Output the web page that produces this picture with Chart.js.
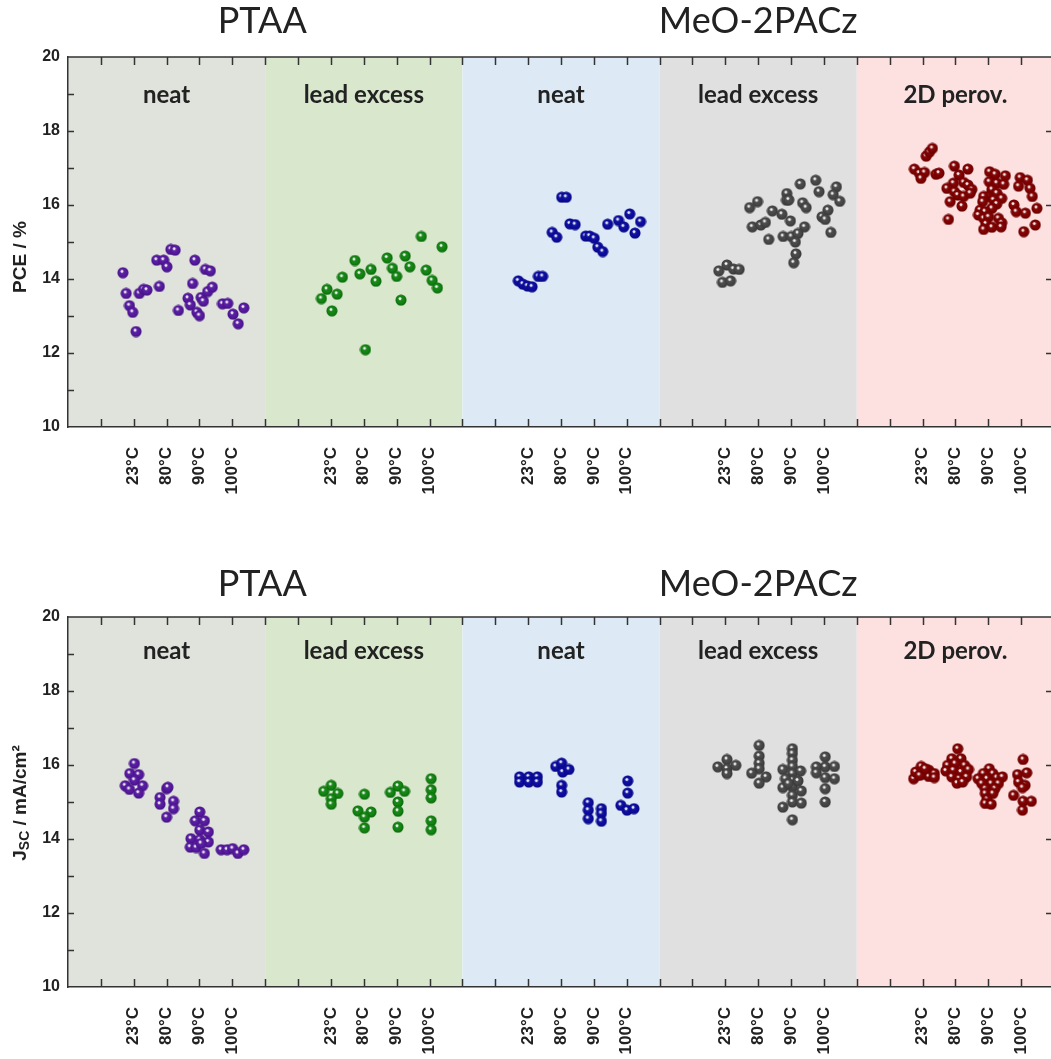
<!DOCTYPE html>
<html>
<head>
<meta charset="utf-8">
<script src="https://cdn.jsdelivr.net/npm/chart.js@4.4.1/dist/chart.umd.min.js"></script>
<style>
html, body { margin: 0; padding: 0; background: #fff; overflow: hidden; width: 1051px; height: 1059px; }
canvas { position: absolute; left: 0; }
#pceChart { top: 0; }
#jscChart { top: 560px; }
</style>
</head>
<body>
<canvas id="pceChart" width="1060" height="500"></canvas>
<canvas id="jscChart" width="1060" height="500"></canvas>
<script>
// categories
const groups = ["neat", "lead excess", "neat", "lead excess", "2D perov."];
const materials = ["PTAA", "MeO-2PACz"];
const tempLabels = ["23°C", "80°C", "90°C", "100°C"];
const bandColors = ["#dfe3dc", "#d9e8cc", "#ddeaf6", "#e0e0e0", "#fde0e0"];
const markerColors = ["#5a1aa8", "#128a12", "#0c0ca8", "#4a4a4a", "#870000"];

// PCE (%) - [x position on axis, value]
const pcePtaaNeat = [[1.67,14.17],[1.77,13.61],[1.87,13.28],[1.97,13.10],[2.07,12.58],[2.17,13.61],[2.30,13.72],[2.40,13.70],
  [2.78,13.80],[2.70,14.51],[2.91,14.51],[3.01,14.33],[3.13,14.80],[3.26,14.78],[3.36,13.15],[3.65,13.48],[3.72,13.30],
  [3.79,13.88],[3.86,14.51],[3.92,13.10],[4.00,13.01],[4.05,13.50],[4.12,13.40],[4.18,14.26],[4.33,14.22],[4.25,13.66],
  [4.39,13.78],[4.70,13.33],[4.86,13.34],[5.02,13.05],[5.18,12.79],[5.35,13.22]];
const pcePtaaLead = [[10.75,15.15],[11.38,14.87],[8.73,14.50],[9.71,14.57],[10.26,14.62],[8.35,14.05],[8.88,14.14],[9.22,14.26],
  [9.87,14.29],[10.40,14.33],[10.90,14.24],[9.37,13.94],[10.00,14.07],[11.08,13.96],[11.24,13.76],[7.88,13.72],[7.71,13.47],
  [8.19,13.59],[8.03,13.14],[10.13,13.43],[9.05,12.09]];
const pceMeoNeat = [[15.02,16.21],[15.16,16.21],[14.73,15.26],[14.87,15.13],[15.27,15.49],[15.43,15.47],[15.75,15.16],[15.87,15.16],
  [16.01,15.10],[16.12,14.86],[16.27,14.74],[16.42,15.48],[16.75,15.58],[16.91,15.41],[17.09,15.76],[17.42,15.55],[17.25,15.24],
  [14.31,14.07],[14.44,14.07],[13.70,13.95],[13.84,13.86],[13.98,13.81],[14.12,13.79]];
const pceMeoLead = [[22.28,16.57],[22.75,16.67],[23.38,16.49],[22.85,16.36],[21.87,16.31],[21.86,16.13],[21.93,16.14],[23.28,16.28],
  [23.48,16.10],[22.35,16.06],[22.46,15.93],[20.98,16.09],[20.74,15.93],[21.43,15.84],[21.72,15.75],[21.98,15.57],[23.12,15.86],
  [22.94,15.68],[23.04,15.61],[20.82,15.41],[21.08,15.46],[21.22,15.53],[22.41,15.41],[21.76,15.15],[22.01,15.15],[22.21,15.23],
  [22.13,15.00],[21.32,15.07],[23.21,15.26],[22.15,14.68],[22.08,14.44],
  [19.80,14.22],[20.05,14.38],[20.25,14.27],[20.42,14.26],[19.91,13.91],[20.16,13.95]];
const pceMeo2D = [[26.11,17.32],[26.21,17.43],[26.30,17.53],[25.75,16.97],[25.90,16.86],[26.06,16.88],[25.95,16.72],[26.41,16.83],
  [26.50,16.86],[26.97,17.05],[27.38,16.97],[27.11,16.81],[26.94,16.59],[26.74,16.45],[27.25,16.61],[27.38,16.54],[27.50,16.42],
  [26.97,16.36],[27.07,16.27],[27.25,16.23],[27.45,16.32],[26.84,16.09],[27.20,15.97],[26.79,15.61],[28.04,16.90],[28.21,16.83],
  [28.52,16.79],[28.03,16.63],[28.26,16.59],[28.47,16.56],[28.11,16.42],[28.26,16.32],[27.99,16.23],[28.16,16.14],[27.86,16.23],
  [27.83,16.09],[28.41,16.18],[28.26,16.03],[28.11,15.91],[27.75,15.86],[27.90,15.82],[27.70,15.73],[27.86,15.64],[28.01,15.68],
  [27.93,15.49],[27.86,15.34],[28.11,15.40],[28.31,15.64],[28.41,15.52],[28.39,15.41],[28.97,16.74],[29.19,16.67],[28.92,16.51],
  [29.27,16.45],[29.34,16.23],[28.78,16.00],[28.85,15.82],[29.13,15.78],[29.48,15.91],[29.43,15.46],[29.08,15.28]];

// Jsc (mA/cm2) - [x position on axis, value]
const jscPtaaNeat = [[2.02,16.04],[1.88,15.77],[2.15,15.74],[2.02,15.59],[1.74,15.44],[1.87,15.34],[2.27,15.44],[2.15,15.24],
  [2.80,15.12],[2.80,14.94],[3.00,15.36],[3.04,15.40],[3.00,14.59],[3.21,15.02],[3.21,14.82],
  [4.01,14.73],[3.87,14.49],[4.15,14.49],[4.01,14.24],[4.27,14.19],[3.74,14.01],[4.01,13.98],[3.72,13.78],[3.90,13.77],
  [4.27,13.92],[4.15,13.61],[4.05,13.88],
  [4.66,13.71],[4.84,13.71],[5.01,13.74],[5.17,13.61],[5.35,13.71]];
const jscPtaaLead = [[8.01,15.45],[7.78,15.29],[8.21,15.23],[8.01,15.09],[8.01,14.94],
  [9.02,15.21],[8.82,14.76],[9.22,14.73],[9.02,14.59],[9.02,14.30],
  [9.81,15.26],[10.04,15.43],[10.24,15.29],[10.04,15.00],[10.04,14.75],[10.04,14.32],
  [11.05,15.63],[11.05,15.33],[11.05,15.11],[11.05,14.49],[11.05,14.25]];
const jscMeoNeat = [[13.74,15.68],[14.02,15.68],[14.28,15.68],[13.74,15.54],[14.02,15.54],[14.28,15.54],
  [14.84,15.96],[15.02,16.05],[15.05,15.81],[15.24,15.88],[15.02,15.45],[15.02,15.27],
  [15.83,14.98],[15.83,14.78],[15.83,14.55],[16.23,14.82],[16.23,14.69],[16.23,14.48],
  [17.03,15.57],[17.03,15.24],[16.82,14.91],[17.01,14.78],[17.22,14.82]];
const jscMeoLead = [[20.05,16.15],[19.77,15.95],[20.05,15.90],[20.32,15.99],[20.05,15.77],
  [21.03,16.53],[21.03,16.24],[21.03,16.05],[21.03,15.90],[20.80,15.78],[21.24,15.68],[21.03,15.51],
  [22.04,16.44],[22.04,16.31],[22.04,16.13],[22.04,15.96],[22.04,15.77],[22.04,15.59],[22.04,15.41],[22.04,15.18],
  [22.04,15.00],[22.04,14.52],[21.75,15.88],[22.29,15.84],[21.83,15.63],[22.21,15.57],[21.75,15.39],[22.31,15.30],
  [21.75,14.86],[22.31,14.97],[21.92,15.50],
  [23.04,16.22],[23.04,15.95],[23.04,15.66],[23.04,15.36],[23.04,15.00],[22.77,15.95],[22.77,15.79],[23.32,15.96],[23.32,15.63]];
const jscMeo2D = [[25.73,15.63],[25.79,15.81],[25.96,15.96],[26.02,15.77],[26.19,15.86],[26.19,15.69],[26.36,15.77],[26.36,15.66],
  [25.91,15.72],[26.08,15.90],
  [27.07,16.44],[26.89,16.17],[27.17,16.17],[26.76,15.99],[26.99,16.04],[27.28,15.99],[26.71,15.84],[26.94,15.86],[27.17,15.81],
  [27.40,15.88],[26.89,15.68],[27.11,15.63],[27.34,15.68],[27.05,15.51],[27.22,15.54],
  [28.03,15.90],[27.85,15.77],[28.14,15.77],[27.69,15.63],[27.96,15.63],[28.26,15.66],[28.43,15.68],[27.80,15.50],[28.09,15.50],
  [28.31,15.50],[27.91,15.36],[28.20,15.36],[27.91,15.23],[28.14,15.23],[27.96,15.07],[27.91,14.96],[28.09,14.94],
  [29.06,16.15],[28.89,15.74],[29.17,15.79],[28.92,15.54],[29.12,15.45],[29.04,15.39],[28.77,15.18],[29.06,15.02],[29.31,15.02],
  [29.04,14.78]];

const FONT = "'Liberation Sans', Arial, sans-serif";
const TITLE_FONT = "Lato, 'Open Sans', sans-serif";

// small shaded ball used as the marker
function sphere(color) {
    const c = document.createElement('canvas');
    c.width = 12; c.height = 12;
    const g = c.getContext('2d');
    g.beginPath();
    g.arc(6, 6, 5.5, 0, Math.PI * 2);
    g.fillStyle = color;
    g.fill();
    const shade = g.createRadialGradient(5, 4.5, 0.5, 6, 6, 6);
    shade.addColorStop(0, 'rgba(255,255,255,0.35)');
    shade.addColorStop(0.5, 'rgba(0,0,0,0)');
    shade.addColorStop(1, 'rgba(0,0,0,0.3)');
    g.fillStyle = shade;
    g.fill();
    g.beginPath();
    g.arc(5, 4.6, 1.4, 0, Math.PI * 2);
    g.fillStyle = 'rgba(255,255,255,0.9)';
    g.fill();
    return c;
}

const framePlugin = {
    id: 'frame',
    beforeDraw(chart) {
        const { ctx, chartArea: a, scales: { x } } = chart;
        ctx.save();
        bandColors.forEach((c, i) => {
            const x0 = x.getPixelForValue(i * 6);
            const x1 = x.getPixelForValue(i * 6 + 6);
            ctx.fillStyle = c;
            ctx.fillRect(x0, a.top, x1 - x0, a.bottom - a.top);
        });
        ctx.restore();
    },
    afterDraw(chart, args, opts) {
        const { ctx, chartArea: a, scales: { x, y } } = chart;
        ctx.save();
        ctx.strokeStyle = '#333';
        ctx.lineWidth = 1.5;
        ctx.beginPath();
        // top frame line
        ctx.moveTo(a.left, a.top);
        ctx.lineTo(a.right, a.top);
        // inward ticks on bottom and top
        for (let v = 1; v < 30; v++) {
            const px = Math.round(x.getPixelForValue(v)) + 0.5;
            ctx.moveTo(px, a.bottom); ctx.lineTo(px, a.bottom - 8);
            ctx.moveTo(px, a.top); ctx.lineTo(px, a.top + 8);
        }
        // left ticks, right ticks
        for (let v = 11; v < 20; v++) {
            const py = Math.round(y.getPixelForValue(v)) + 0.5;
            ctx.moveTo(a.left, py); ctx.lineTo(a.left + 6, py);
            if (v % 2 === 0) { ctx.moveTo(a.right, py); ctx.lineTo(a.right - 8, py); }
        }
        ctx.stroke();

        // group labels inside the bands
        ctx.fillStyle = '#222';
        ctx.font = "bold 24px " + TITLE_FONT;
        ctx.textAlign = 'center';
        ctx.textBaseline = 'alphabetic';
        groups.forEach((g, i) => {
            ctx.fillText(g, x.getPixelForValue(i * 6 + 3), opts.groupY);
        });

        // material titles above
        ctx.font = "36px " + TITLE_FONT;
        ctx.fillText(materials[0], x.getPixelForValue(6) - 3, opts.titleY);
        ctx.fillText(materials[1], x.getPixelForValue(21), opts.titleY);

        // y axis title, with subscript parts
        ctx.translate(21, opts.yTitleCenter);
        ctx.rotate(-Math.PI / 2);
        ctx.textAlign = 'left';
        ctx.textBaseline = 'middle';
        const parts = opts.yTitle;
        let total = 0;
        parts.forEach(p => {
            ctx.font = (p[1] ? "bold 14px " : "bold 19px ") + FONT;
            total += ctx.measureText(p[0]).width;
        });
        let cx = -total / 2;
        parts.forEach(p => {
            ctx.font = (p[1] ? "bold 14px " : "bold 19px ") + FONT;
            ctx.fillText(p[0], cx, p[1] ? 4 : 0);
            cx += ctx.measureText(p[0]).width;
        });
        ctx.restore();
    }
};

function makeChart(canvasId, seriesList, frameOpts) {
    const ctx = document.getElementById(canvasId).getContext("2d");
    return new Chart(ctx, {
        type: 'scatter',
        data: {
            datasets: seriesList.map((s, i) => ({
                data: s.map(p => ({ x: p[0], y: p[1] })),
                pointStyle: sphere(markerColors[i]),
                pointRadius: 6,
                borderWidth: 0,
                backgroundColor: markerColors[i]
            }))
        },
        options: {
            responsive: false,
            animation: false,
            events: [],
            layout: { padding: { top: 57, right: 1, bottom: 0, left: 0 } },
            plugins: {
                legend: { display: false },
                tooltip: { enabled: false },
                frame: frameOpts
            },
            scales: {
                x: {
                    type: 'linear',
                    min: 0,
                    max: 30,
                    grid: { display: false, drawTicks: false },
                    border: { display: true, color: '#333', width: 1.5 },
                    ticks: {
                        stepSize: 1,
                        autoSkip: false,
                        maxRotation: 90,
                        minRotation: 90,
                        padding: 20,
                        color: '#222',
                        font: { family: FONT, size: 17, weight: 'bold' },
                        callback: v => {
                            const k = Math.round(v) % 6;
                            return (k >= 2 && k <= 5) ? tempLabels[k - 2] : '';
                        }
                    },
                    afterFit(s) { s.height = 73; s.paddingLeft = 0; s.paddingRight = 0; }
                },
                y: {
                    min: 10,
                    max: 20,
                    grid: { display: false, drawTicks: false },
                    border: { display: true, color: '#333', width: 1.5 },
                    ticks: {
                        stepSize: 1,
                        padding: 8,
                        color: '#222',
                        font: { family: FONT, size: 16, weight: 'bold' },
                        callback: v => (v % 2 === 0 ? v : '')
                    },
                    afterFit(s) { s.width = 68; s.paddingTop = 0; s.paddingBottom = 0; }
                }
            }
        },
        plugins: [framePlugin]
    });
}

makeChart("pceChart", [pcePtaaNeat, pcePtaaLead, pceMeoNeat, pceMeoLead, pceMeo2D],
    { yTitle: [["PCE / %", false]], yTitleCenter: 257, titleY: 33, groupY: 103 });
makeChart("jscChart", [jscPtaaNeat, jscPtaaLead, jscMeoNeat, jscMeoLead, jscMeo2D],
    { yTitle: [["J", false], ["SC", true], [" / mA/cm²", false]], yTitleCenter: 243, titleY: 36, groupY: 99 });
</script>
</body>
</html>
